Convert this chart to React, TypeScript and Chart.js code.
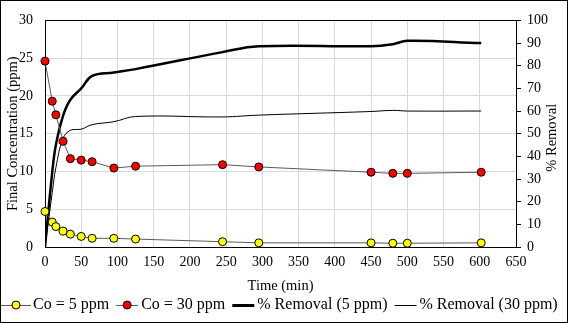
import React, { useEffect, useRef } from "react";
import { Chart, registerables } from "chart.js";

Chart.register(...registerables);

// ---- data ----
const timeMin = [0, 10, 15, 25, 35, 50, 65, 95, 125, 245, 295, 450, 480, 500, 602];
const co5ppm = [4.7, 3.3, 2.7, 2.1, 1.7, 1.4, 1.15, 1.15, 1.05, 0.7, 0.55, 0.55, 0.5, 0.5, 0.55];
const co30ppm = [24.6, 19.3, 17.5, 14.0, 11.7, 11.5, 11.3, 10.45, 10.7, 10.9, 10.6, 9.9, 9.75, 9.75, 9.9];
const removal5ppm = [0, 33, 45, 58, 65, 70, 75.5, 77, 78.5, 86, 88.6, 88.6, 89.5, 91, 90];
const removal30ppm = [0, 24, 35, 48, 51.5, 52, 54, 55.3, 57.6, 57.4, 58.2, 59.8, 60.3, 60, 60];

const seriesLabels = ["Co = 5 ppm", "Co = 30 ppm", "% Removal (5 ppm)", "% Removal (30 ppm)"];
const xTitle = "Time (min)";
const yLeftTitle = "Final Concentration (ppm)";
const yRightTitle = "% Removal";

const xMin = 0, xMax = 650, xStep = 50;
const yMin = 0, yMax = 30, yStep = 5;
const y1Min = 0, y1Max = 100, y1Step = 10;

const FONT = '"Liberation Serif", "Times New Roman", serif';

function pts(ys: number[]) {
  return timeMin.map((t, i) => ({ x: t, y: ys[i] }));
}

function makeSymbol(from: number, to: number, lw: number, color: string, marker?: string) {
  const c = document.createElement("canvas");
  c.width = 34;
  c.height = 14;
  const g = c.getContext("2d")!;
  g.strokeStyle = color;
  g.lineWidth = lw;
  const yy = lw % 2 === 1 ? 7.5 : 7;
  g.beginPath();
  g.moveTo(from, yy);
  g.lineTo(to, yy);
  g.stroke();
  if (marker) {
    g.beginPath();
    g.arc((from + to) / 2, 7, 4, 0, Math.PI * 2);
    g.fillStyle = marker;
    g.fill();
    g.lineWidth = 1;
    g.strokeStyle = "#000";
    g.stroke();
  }
  return c;
}

export default function App() {
  const ref = useRef<HTMLCanvasElement>(null);

  useEffect(() => {
    const canvas = ref.current!;
    const symbols = [
      makeSymbol(2, 32, 1, "#5a5a5a", "#ffff00"),
      makeSymbol(9, 31, 1, "#5a5a5a", "#ff0000"),
      makeSymbol(9, 31, 3, "#000"),
      makeSymbol(9, 31, 1, "#000"),
    ];

    const framePlugin = {
      id: "frame",
      beforeDatasetsDraw(chart: any) {
        const { ctx, chartArea } = chart;
        ctx.save();
        ctx.strokeStyle = "#000";
        ctx.lineWidth = 1;
        const y = Math.round(chartArea.top) + 0.5;
        ctx.beginPath();
        ctx.moveTo(chartArea.left, y);
        ctx.lineTo(chartArea.right, y);
        ctx.stroke();
        ctx.restore();
      },
      afterDraw(chart: any) {
        const { ctx, chartArea } = chart;
        ctx.save();
        ctx.fillStyle = "#000";
        ctx.font = `14.5px ${FONT}`;
        ctx.textAlign = "center";
        ctx.textBaseline = "middle";
        ctx.translate(552, (chartArea.top + chartArea.bottom) / 2 + 4);
        ctx.rotate(-Math.PI / 2);
        ctx.fillText(yRightTitle, 0, 0);
        ctx.restore();
        ctx.save();
        ctx.strokeStyle = "#000";
        ctx.lineWidth = 1;
        ctx.strokeRect(0.5, 0.5, chart.width - 1, chart.height - 1);
        ctx.restore();
      },
    };

    const chart = new Chart(canvas, {
      type: "line",
      data: {
        datasets: [
          {
            label: seriesLabels[0],
            data: pts(co5ppm),
            yAxisID: "y",
            borderColor: "#5a5a5a",
            borderWidth: 1,
            pointRadius: 4,
            pointBackgroundColor: "#ffff00",
            pointBorderColor: "#000",
            pointBorderWidth: 1,
            tension: 0,
            clip: false,
            order: 0,
          },
          {
            label: seriesLabels[1],
            data: pts(co30ppm),
            yAxisID: "y",
            borderColor: "#5a5a5a",
            borderWidth: 1,
            pointRadius: 4,
            pointBackgroundColor: "#ff0000",
            pointBorderColor: "#000",
            pointBorderWidth: 1,
            tension: 0,
            clip: false,
            order: 1,
          },
          {
            label: seriesLabels[2],
            data: pts(removal5ppm),
            yAxisID: "y1",
            borderColor: "#000",
            borderWidth: 2.5,
            pointRadius: 0,
            tension: 0.4,
            order: 2,
          },
          {
            label: seriesLabels[3],
            data: pts(removal30ppm),
            yAxisID: "y1",
            borderColor: "#000",
            borderWidth: 1,
            pointRadius: 0,
            tension: 0.4,
            order: 3,
          },
        ] as any,
      },
      options: {
        responsive: false,
        animation: false,
        devicePixelRatio: 1,
        layout: { padding: { left: 1, right: 0, top: 20, bottom: 0 } },
        plugins: {
          tooltip: { enabled: false },
          legend: {
            position: "bottom",
            align: "start",
            labels: {
              font: { family: FONT, size: 16 },
              color: "#000",
              usePointStyle: true,
              pointStyleWidth: 18,
              padding: 6,
              generateLabels: () =>
                seriesLabels.map((text, i) => ({
                  text,
                  pointStyle: symbols[i] as any,
                  datasetIndex: i,
                  fillStyle: "rgba(0,0,0,0)",
                  strokeStyle: "rgba(0,0,0,0)",
                  lineWidth: 0,
                  fontColor: "#000",
                  hidden: false,
                })),
            },
          },
        },
        scales: {
          x: {
            type: "linear",
            min: xMin,
            max: xMax,
            ticks: {
              stepSize: xStep,
              font: { family: FONT, size: 14 },
              color: "#000",
              padding: 7,
              maxRotation: 0,
            },
            grid: { color: "#d9d9d9", drawTicks: false },
            border: { display: true, color: "#000" },
            title: {
              display: true,
              text: xTitle,
              font: { family: FONT, size: 14.5 },
              color: "#000",
              padding: { top: 0, bottom: -4 },
            },
            afterFit: (s: any) => {
              s.height = 44;
            },
          },
          y: {
            type: "linear",
            position: "left",
            min: yMin,
            max: yMax,
            ticks: {
              stepSize: yStep,
              font: { family: FONT, size: 14 },
              color: "#000",
              padding: 12,
            },
            grid: { color: "#d9d9d9", drawTicks: false },
            border: { display: true, color: "#000" },
            title: {
              display: true,
              text: yLeftTitle,
              font: { family: FONT, size: 14.5 },
              color: "#000",
              padding: { top: 3, bottom: 0 },
            },
            afterFit: (s: any) => {
              s.width = 44;
            },
          },
          y1: {
            type: "linear",
            position: "right",
            min: y1Min,
            max: y1Max,
            ticks: {
              stepSize: y1Step,
              font: { family: FONT, size: 14 },
              color: "#000",
              padding: 6,
            },
            grid: {
              drawOnChartArea: false,
              drawTicks: true,
              tickLength: 5,
              color: "#000",
            },
            border: { display: true, color: "#000" },
            afterFit: (s: any) => {
              s.width = 52;
            },
          },
        },
      } as any,
      plugins: [framePlugin],
    });

    return () => chart.destroy();
  }, []);

  return (
    <div style={{ position: "absolute", left: 0, top: 0, width: 568, height: 323, background: "#fff" }}>
      <canvas ref={ref} width={568} height={323} style={{ display: "block" }} />
    </div>
  );
}
